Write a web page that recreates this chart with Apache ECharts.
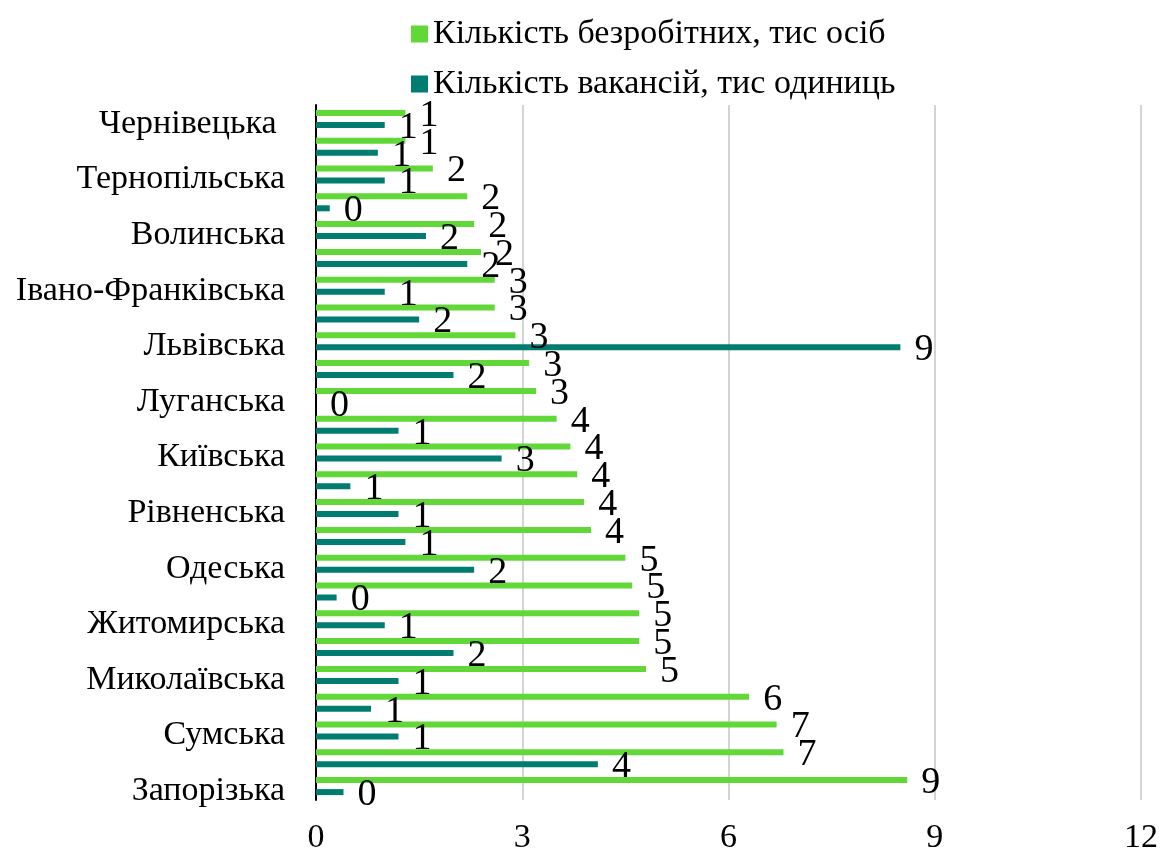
<!DOCTYPE html>
<html>
<head>
<meta charset="utf-8">
<title>Безробітні та вакансії за областями</title>
<script src="https://cdn.jsdelivr.net/npm/echarts@6/dist/echarts.min.js"></script>
<style>
  html, body { margin: 0; padding: 0; background: #ffffff; }
  #chart { width: 1161px; height: 855px; }
</style>
</head>
<body>
<div id="chart"></div>
<script>
// Regions, top to bottom (only every other name is printed on the axis)
const regions = [
  'Чернівецька ', 'Закарпатська', 'Тернопільська', 'Кіровоградська', 'Волинська',
  'Хмельницька', 'Івано-Франківська', 'Чернігівська', 'Львівська', 'Черкаська',
  'Луганська', 'Херсонська', 'Київська', 'Вінницька', 'Рівненська',
  'Полтавська', 'Одеська', 'Донецька', 'Житомирська', 'Харківська',
  'Миколаївська', 'Дніпропетровська', 'Сумська', 'м. Київ', 'Запорізька'
];

// Unemployed, thousand persons
const unemployed = [
  1.3, 1.3, 1.7, 2.2, 2.3,
  2.4, 2.6, 2.6, 2.9, 3.1,
  3.2, 3.5, 3.7, 3.8, 3.9,
  4.0, 4.5, 4.6, 4.7, 4.7,
  4.8, 6.3, 6.7, 6.8, 8.6
];

// Vacancies, thousand units
const vacancies = [
  1.0, 0.9, 1.0, 0.2, 1.6,
  2.2, 1.0, 1.5, 8.5, 2.0,
  0.0, 1.2, 2.7, 0.5, 1.2,
  1.3, 2.3, 0.3, 1.0, 2.0,
  1.2, 0.8, 1.2, 4.1, 0.4
];

const seriesNames = ['Кількість безробітних, тис осіб', 'Кількість вакансій, тис одиниць'];
const xTicks = { min: 0, max: 12, step: 3 };

const FONT = '"Liberation Serif", "Times New Roman", serif';
const GREEN = '#62d838';
const TEAL = '#007c70';

const valueLabel = {
  show: true,
  position: 'right',
  distance: 14,
  offset: [0, 3],
  color: '#000000',
  fontFamily: FONT,
  fontSize: 38,
  formatter: p => String(Math.round(p.value))
};

const chart = echarts.init(document.getElementById('chart'), null, { renderer: 'canvas' });

chart.setOption({
  animation: false,
  backgroundColor: '#ffffff',
  legend: {
    orient: 'vertical',
    left: 406,
    top: 12,
    itemWidth: 17,
    itemHeight: 17,
    itemGap: 16,
    icon: 'rect',
    textStyle: { fontFamily: FONT, fontSize: 34, color: '#000000' },
    data: seriesNames
  },
  grid: { left: 316, right: 18, top: 105, bottom: 54, containLabel: false },
  xAxis: {
    type: 'value',
    min: xTicks.min,
    max: xTicks.max,
    interval: xTicks.step,
    axisLine: { show: false },
    axisTick: { show: false },
    axisLabel: { fontFamily: FONT, fontSize: 34, color: '#000000', margin: 21 },
    splitLine: { show: true, lineStyle: { color: '#c6c6c6', width: 1.5 } }
  },
  yAxis: {
    type: 'category',
    inverse: true,
    data: regions,
    axisLine: { show: true, lineStyle: { color: '#000000', width: 2 } },
    axisTick: { show: false },
    axisLabel: {
      interval: 1,
      fontFamily: FONT,
      fontSize: 34,
      color: '#000000',
      margin: 31,
      verticalAlign: 'top',
      lineHeight: 10
    },
    splitLine: { show: false }
  },
  series: [
    {
      name: seriesNames[0],
      type: 'bar',
      data: unemployed,
      barWidth: 6,
      barGap: '100%',
      itemStyle: { color: GREEN },
      label: valueLabel
    },
    {
      name: seriesNames[1],
      type: 'bar',
      data: vacancies,
      barWidth: 6,
      barGap: '100%',
      itemStyle: { color: TEAL },
      label: valueLabel
    }
  ]
});
</script>
</body>
</html>
